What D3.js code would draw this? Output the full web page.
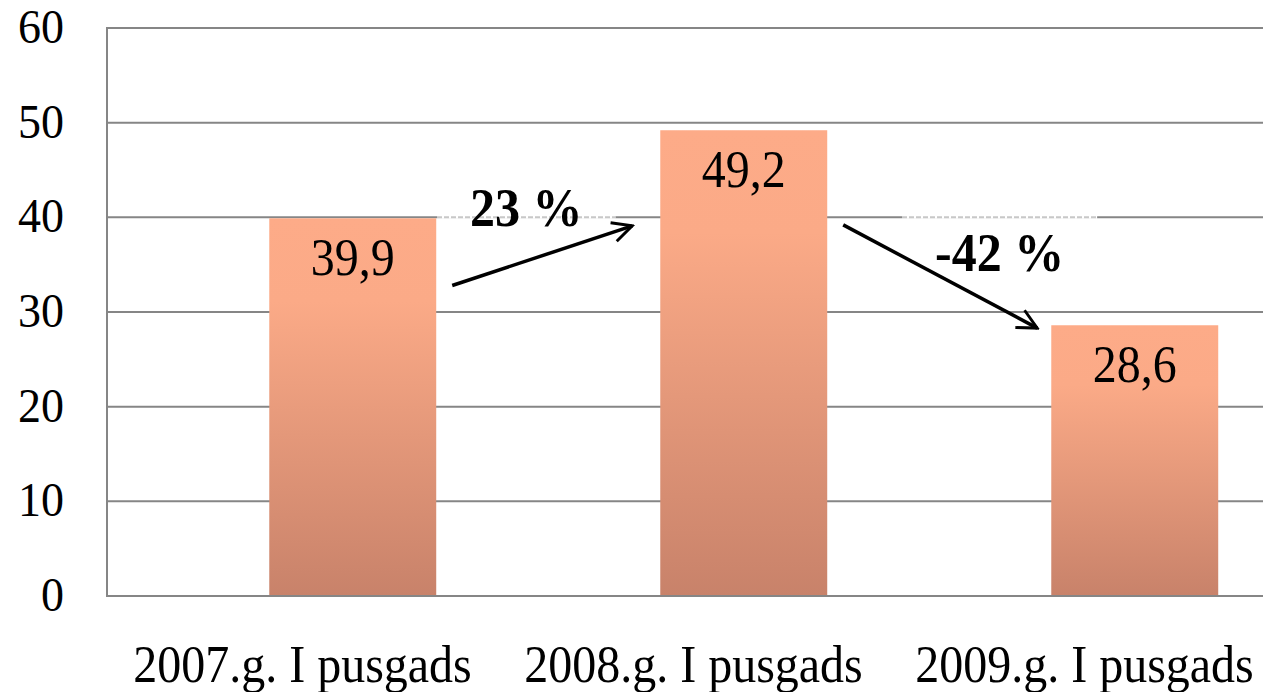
<!DOCTYPE html>
<html>
<head>
<meta charset="utf-8">
<script src="https://cdn.jsdelivr.net/npm/d3@7"></script>
<style>
  body { margin: 0; background: #fff; }
  svg { display: block; font-family: "Liberation Serif", "Times New Roman", serif; }
</style>
</head>
<body>
<div id="chart"></div>
<script>
var categories = ['2007.g. I pusgads', '2008.g. I pusgads', '2009.g. I pusgads'];
var values = [39.9, 49.2, 28.6];
var valueLabels = ['39,9', '49,2', '28,6'];
var yTicks = [0, 10, 20, 30, 40, 50, 60];
// change annotations: text, from category -> to category, arrow start/end values
var changeLabels = ['23 %', '-42 %'];
var changeFrom = [0, 1];
var changeStart = [32.8, 39.2];
var changeEnd = [39.1, 28.3];

var width = 1263, height = 692;
var plotLeft = 107, plotTop = 28, plotBottom = 596;
var gray = '#868686';

var svg = d3.select('#chart').append('svg')
    .attr('width', width)
    .attr('height', height);

var x = d3.scaleBand()
    .domain(categories)
    .range([plotLeft, plotLeft + 3 * 391]);

var y = d3.scaleLinear()
    .domain([0, 60])
    .range([plotBottom, plotTop]);

function barLeft(c) { return x(c) + x.step() * 0.415; }
var barWidth = x.step() * 0.427;

// text slightly taller than wide, as in the original picture
function place(sx, sy, k) {
    return 'translate(' + sx + ',' + sy + ') scale(1,' + k + ')';
}

var defs = svg.append('defs');
var grad = defs.append('linearGradient')
    .attr('id', 'barGrad')
    .attr('x1', 0).attr('y1', 0).attr('x2', 0).attr('y2', 1);
grad.append('stop').attr('offset', 0).attr('stop-color', '#fdab88');
grad.append('stop').attr('offset', 0.22).attr('stop-color', '#fbaa87');
grad.append('stop').attr('offset', 1).attr('stop-color', '#c8826a');

// gridlines
svg.append('g')
    .selectAll('line')
    .data(yTicks.slice(1))
    .enter()
    .append('line')
    .attr('x1', plotLeft).attr('x2', width)
    .attr('y1', function (d) { return y(d); })
    .attr('y2', function (d) { return y(d); })
    .style('stroke', gray)
    .style('stroke-width', 2);

var boxLayer = svg.append('g');

// y labels
svg.append('g')
    .selectAll('text')
    .data(yTicks)
    .enter()
    .append('text')
    .attr('transform', function (d) { return place(64, y(d) + 15, 1.05); })
    .attr('text-anchor', 'end')
    .style('font-size', '46px')
    .text(function (d) { return d; });

// bars
svg.append('g')
    .selectAll('rect')
    .data(values)
    .enter()
    .append('rect')
    .attr('x', function (d, i) { return barLeft(categories[i]); })
    .attr('y', function (d) { return y(d); })
    .attr('width', barWidth)
    .attr('height', function (d) { return y(0) - y(d); })
    .style('fill', 'url(#barGrad)');

// value labels
svg.append('g')
    .selectAll('text')
    .data(values)
    .enter()
    .append('text')
    .attr('transform', function (d, i) {
        return place(barLeft(categories[i]) + barWidth / 2, y(d) + 57, 1.12);
    })
    .attr('text-anchor', 'middle')
    .style('font-size', '48px')
    .text(function (d, i) { return valueLabels[i]; });

// axes lines
svg.append('line')
    .attr('x1', plotLeft).attr('x2', plotLeft)
    .attr('y1', plotTop - 1).attr('y2', plotBottom + 1)
    .style('stroke', gray).style('stroke-width', 2);
svg.append('line')
    .attr('x1', plotLeft).attr('x2', width)
    .attr('y1', plotBottom).attr('y2', plotBottom)
    .style('stroke', gray).style('stroke-width', 2);

// category labels
svg.append('g')
    .selectAll('text')
    .data(categories)
    .enter()
    .append('text')
    .attr('transform', function (d) { return place(x(d) + x.bandwidth() / 2, 682, 1.08); })
    .attr('text-anchor', 'middle')
    .style('font-size', '48px')
    .text(function (d) { return d; });

// arrow marker
defs.append('marker')
    .attr('id', 'arrow')
    .attr('viewBox', '0 0 20 20')
    .attr('refX', 18).attr('refY', 10)
    .attr('markerWidth', 7).attr('markerHeight', 7)
    .attr('markerUnits', 'strokeWidth')
    .attr('orient', 'auto')
    .append('path')
    .attr('d', 'M2,2 L18,10 L2,18')
    .style('fill', 'none')
    .style('stroke', '#000')
    .style('stroke-width', 2.4);

// change annotations
var textX = [470, 935];
var textY = [y(40) + 9, y(34.3)];
changeLabels.forEach(function (label, i) {
    var a = categories[changeFrom[i]], b = categories[changeFrom[i] + 1];
    var x1 = barLeft(a) + barWidth + 16;
    var x2 = barLeft(b) - (i === 0 ? 28 : 14);
    var t = svg.append('text')
        .attr('transform', place(textX[i], textY[i], 1.1))
        .style('font-size', '50px')
        .style('font-weight', 'bold')
        .text(label);
    var w = t.node().getBBox().width;
    // text box covers the gridline with a faint dashed border
    boxLayer.append('line')
        .attr('x1', textX[i] - 33).attr('x2', textX[i] + w + 33)
        .attr('y1', y(40)).attr('y2', y(40))
        .style('stroke', '#fff').style('stroke-width', 3);
    boxLayer.append('line')
        .attr('x1', textX[i] - 33).attr('x2', textX[i] + w + 33)
        .attr('y1', y(40)).attr('y2', y(40))
        .style('stroke', '#c8c8c8').style('stroke-width', 2)
        .style('stroke-dasharray', '5,2');
    svg.append('line')
        .attr('x1', x1).attr('y1', y(changeStart[i]))
        .attr('x2', x2).attr('y2', y(changeEnd[i]))
        .style('stroke', '#000')
        .style('stroke-width', 3.5)
        .attr('marker-end', 'url(#arrow)');
});
</script>
</body>
</html>
